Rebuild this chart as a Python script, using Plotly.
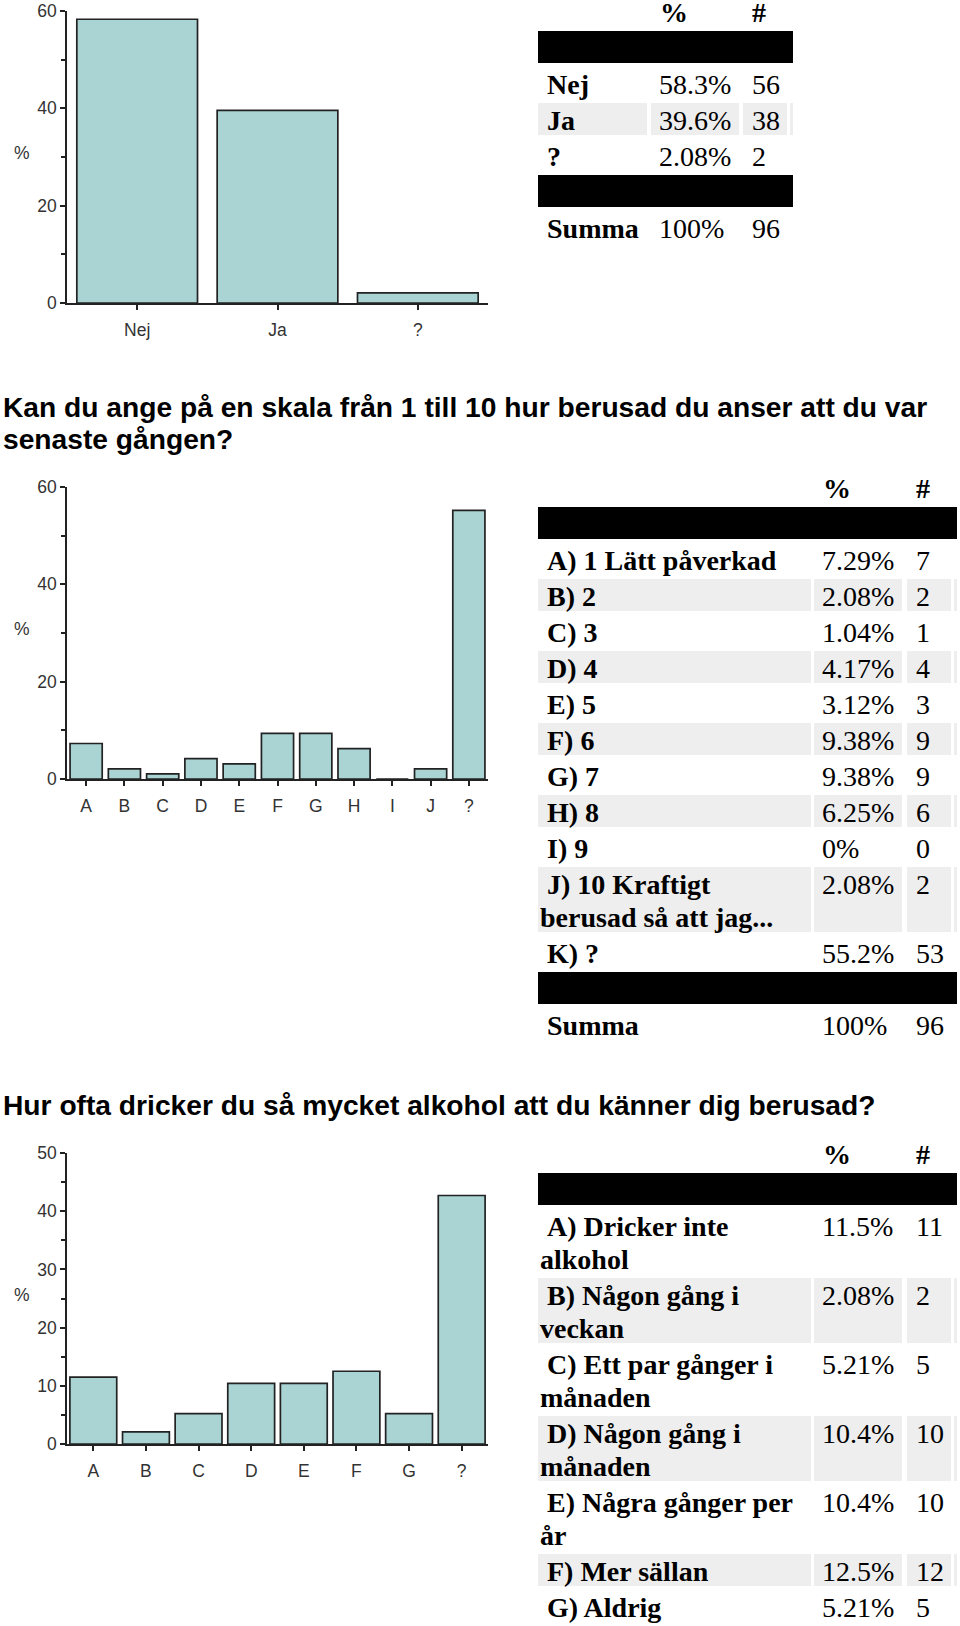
import plotly.graph_objects as go

W, H = 960, 1626

# ---------------- data ----------------
q1_cats = ["Nej", "Ja", "?"]
q1_pct = [58.3, 39.6, 2.08]
q1_n = [56, 38, 2]
q1_labels = ["Nej", "Ja", "?"]

q2_title = ["Kan du ange på en skala från 1 till 10 hur berusad du anser att du var",
            "senaste gången?"]
q2_cats = ["A", "B", "C", "D", "E", "F", "G", "H", "I", "J", "?"]
q2_pct = [7.29, 2.08, 1.04, 4.17, 3.12, 9.38, 9.38, 6.25, 0, 2.08, 55.2]
q2_n = [7, 2, 1, 4, 3, 9, 9, 6, 0, 2, 53]
q2_labels = ["A) 1 Lätt påverkad", "B) 2", "C) 3", "D) 4", "E) 5", "F) 6",
             "G) 7", "H) 8", "I) 9", "J) 10 Kraftigt\nberusad så att jag...", "K) ?"]

q3_title = ["Hur ofta dricker du så mycket alkohol att du känner dig berusad?"]
q3_cats = ["A", "B", "C", "D", "E", "F", "G", "?"]
q3_pct = [11.5, 2.08, 5.21, 10.4, 10.4, 12.5, 5.21, 42.7]
q3_n = [11, 2, 5, 10, 10, 12, 5, 41]
q3_labels = ["A) Dricker inte\nalkohol", "B) Någon gång i\nveckan",
             "C) Ett par gånger i\nmånaden", "D) Någon gång i\nmånaden",
             "E) Några gånger per\når", "F) Mer sällan", "G) Aldrig"]

total_pct = 100
total_n = 96
head_pct, head_n, sum_label = "%", "#", "Summa"

# ---------------- styles / layout constants ----------------
BAR_FILL = "#aad4d4"
INK = "#222222"
GRAY = "#eeeeee"
SANS = "Liberation Sans"
SERIF = "Liberation Serif"
PX = (67, 488)  # chart plot-area horizontal extent (px)
TICKFONT = dict(family=SANS, size=17.5, color="#333")


def fmt(v):
    return f"{v:.3g}%"


fig = go.Figure()

charts = [
    dict(cats=q1_cats, vals=q1_pct, ypx=(11, 303), ymax=60, dtick=20, bw=0.86),
    dict(cats=q2_cats, vals=q2_pct, ypx=(487, 779), ymax=60, dtick=20, bw=0.84),
    dict(cats=q3_cats, vals=q3_pct, ypx=(1153, 1444), ymax=50, dtick=10, bw=0.89),
]

layout_axes = {}
annotations = []
for i, c in enumerate(charts, start=1):
    fig.add_trace(go.Bar(
        x=c["cats"], y=c["vals"], width=c["bw"],
        marker=dict(color=BAR_FILL, line=dict(color=INK, width=1.7)),
        xaxis=f"x{i}", yaxis=f"y{i}", hoverinfo="skip", showlegend=False))
    layout_axes[f"xaxis{i}"] = dict(
        domain=[PX[0] / W, PX[1] / W], anchor=f"y{i}", type="category",
        range=[-0.5, len(c["cats"]) - 0.5],
        showline=True, linecolor=INK, linewidth=1.5,
        ticks="outside", ticklen=5, tickwidth=1.5, tickcolor=INK,
        ticklabelstandoff=5, tickfont=TICKFONT,
        showgrid=False, zeroline=False, fixedrange=True)
    y0, y1 = c["ypx"]
    dom = [1 - y1 / H, 1 - y0 / H]
    minor_vals = [v + c["dtick"] / 2 for v in range(0, c["ymax"], c["dtick"])]
    layout_axes[f"yaxis{i}"] = dict(
        domain=dom, anchor=f"x{i}",
        range=[0, c["ymax"]],
        tickvals=list(range(0, c["ymax"] + 1, c["dtick"])),
        minor=dict(tickvals=minor_vals, ticks="outside", ticklen=4,
                   tickwidth=1.5, tickcolor=INK),
        showline=True, linecolor=INK, linewidth=1.5,
        ticks="outside", ticklen=5, tickwidth=1.5, tickcolor=INK,
        ticklabelstandoff=0, tickfont=TICKFONT,
        showgrid=False, zeroline=False, fixedrange=True)
    # inner half of the minor ticks (they cross the axis line)
    layout_axes[f"yaxis{i + 4}"] = dict(
        overlaying=f"y{i}", anchor=f"x{i}", side="left",
        range=[0, c["ymax"]], tickvals=minor_vals, ticks="inside",
        ticklen=4, tickwidth=1.5, tickcolor=INK, showticklabels=False,
        showline=False, showgrid=False, zeroline=False, fixedrange=True)
    annotations.append(dict(
        text="%", xref="paper", yref="paper", x=22 / W,
        y=1 - ((y0 + y1) / 2 - 4) / H, xanchor="center", yanchor="middle",
        showarrow=False, font=TICKFONT))

# ---------------- tables (drawn on a pixel-mapped hidden axis) ----------------
tables = [
    dict(top=-5, labels=q1_labels, pcts=q1_pct, ns=q1_n,
         cols=[(538, 647), (651, 739), (743, 787), (790, 793)]),
    dict(top=471, labels=q2_labels, pcts=q2_pct, ns=q2_n,
         cols=[(538, 811), (814, 902), (907, 951), (954, 957)]),
    dict(top=1137, labels=q3_labels, pcts=q3_pct, ns=q3_n,
         cols=[(538, 811), (814, 902), (907, 951), (954, 957)]),
]

LINE = 33
TXT = 20  # text line centre below the row top
cell_y, cell_h, cell_base, cell_w, cell_col = [], [], [], [], []
bx, by, bt = [], [], []   # bold text
rx, ry, rt = [], [], []   # regular text


def add_cell(l, r, top, h, color):
    cell_y.append(top + h / 2)
    cell_h.append(h)
    cell_base.append(l)
    cell_w.append(r - l)
    cell_col.append(color)


for t in tables:
    cols = t["cols"]
    left, right = cols[0][0], cols[-1][1]
    y = t["top"]
    # header row
    for txt, col in ((head_pct, cols[1]), (head_n, cols[2])):
        bx.append(col[0] + 9); by.append(y + TXT); bt.append(f"<b>{txt}</b>")
    y += 36
    # black bar
    add_cell(left, right, y, 32, "#000000")
    y += 36
    for k, (lab, p, n) in enumerate(zip(t["labels"], t["pcts"], t["ns"])):
        lines = lab.split("\n")
        pitch = 3 + LINE * len(lines)
        if k % 2 == 1:
            for (l, r) in cols:
                add_cell(l, r, y, pitch - 4, GRAY)
        for j, ln in enumerate(lines):
            bx.append(left + (9 if j == 0 else 2)); by.append(y + TXT + LINE * j)
            bt.append(f"<b>{ln}</b>")
        rx.append(cols[1][0] + 8); ry.append(y + TXT); rt.append(fmt(p))
        rx.append(cols[2][0] + 9); ry.append(y + TXT); rt.append(str(n))
        y += pitch
    if y < H:
        add_cell(left, right, y, 32, "#000000")
        y += 36
        bx.append(left + 9); by.append(y + TXT); bt.append(f"<b>{sum_label}</b>")
        rx.append(cols[1][0] + 8); ry.append(y + TXT); rt.append(fmt(total_pct))
        rx.append(cols[2][0] + 9); ry.append(y + TXT); rt.append(str(total_n))

fig.add_trace(go.Bar(
    orientation="h", y=cell_y, x=cell_w, base=cell_base, width=cell_h,
    marker=dict(color=cell_col, line=dict(width=0)),
    xaxis="x4", yaxis="y4", hoverinfo="skip", showlegend=False))
fig.add_trace(go.Scatter(
    x=bx, y=by, text=bt, mode="text", textposition="middle right",
    textfont=dict(family=SERIF, size=28, color="#000"), cliponaxis=False,
    xaxis="x4", yaxis="y4", hoverinfo="skip", showlegend=False))
fig.add_trace(go.Scatter(
    x=rx, y=ry, text=rt, mode="text", textposition="middle right",
    textfont=dict(family=SERIF, size=28, color="#000"), cliponaxis=False,
    xaxis="x4", yaxis="y4", hoverinfo="skip", showlegend=False))

layout_axes["xaxis4"] = dict(domain=[0, 1], range=[0, W], visible=False,
                             anchor="y4", fixedrange=True)
layout_axes["yaxis4"] = dict(domain=[0, 1], range=[H, 0], visible=False,
                             anchor="x4", fixedrange=True)

# headings
for txt, yy in ((q2_title[0], 407), (q2_title[1], 439), (q3_title[0], 1105)):
    annotations.append(dict(
        text=f"<b>{txt}</b>", xref="x4", yref="y4", x=1, y=yy,
        xanchor="left", yanchor="middle", showarrow=False,
        font=dict(family=SANS, size=28.2, color="#000")))

fig.update_layout(
    width=W, height=H,
    margin=dict(l=0, r=0, t=0, b=0, pad=0, autoexpand=False),
    paper_bgcolor="white", plot_bgcolor="rgba(0,0,0,0)",
    barmode="overlay", showlegend=False,
    annotations=annotations, **layout_axes)

post = (
    "var s=document.documentElement.style;s.margin='0';s.padding='0';s.overflow='hidden';"
    "var b=document.body.style;b.margin='0';b.padding='0';b.overflow='hidden';"
)
fig.write_html("out.html", config={"displayModeBar": False}, post_script=post)
